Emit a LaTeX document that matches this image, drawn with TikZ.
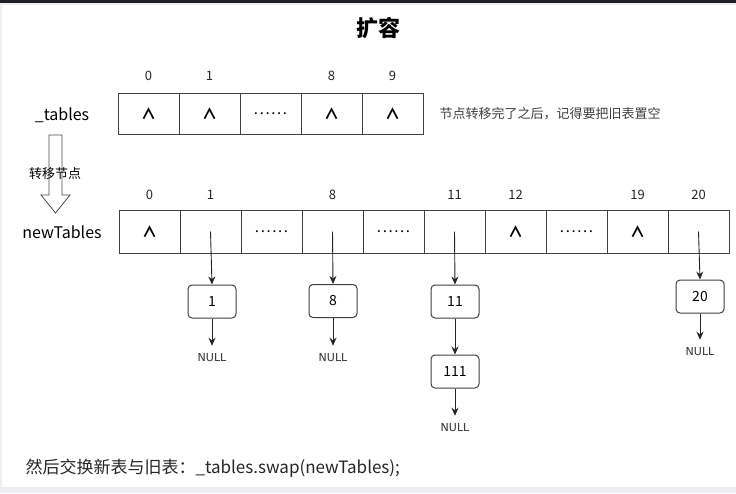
\documentclass[tikz,border=0pt]{standalone}
\usepackage{fontspec}
\setmainfont{Noto Sans CJK SC}
\newfontfamily\nullface{DejaVu Sans}
\usetikzlibrary{arrows.meta}
\definecolor{xFrame}{RGB}{30,32,38}
\definecolor{xEdge}{RGB}{236,238,242}
\newcommand{\gapdots}{.\kern1.6pt.\kern1.6pt.\kern1.6pt.\kern1.6pt.\kern1.6pt.}
\newcommand{\emptymark}{{\bfseries ∧}}

\begin{document}
\begin{tikzpicture}[x=1pt,y=-1pt,
    cellbox/.style={draw=black!75,line width=1pt,minimum width=61pt,
        inner sep=0pt,font=\fontsize{15}{15}\selectfont},
    idx/.style={font=\fontsize{13}{13}\selectfont,text=black!85},
    listbox/.style={draw=black!75,line width=1pt,rounded corners=4pt,
        minimum width=48pt,minimum height=33pt,inner sep=0pt,
        font=\fontsize{14}{14}\selectfont},
    nulltext/.style={font=\nullface\fontsize{11}{11}\selectfont,
        text=black!80,inner sep=1pt},
    ptr/.style={-{Stealth[length=8pt,width=7pt]},line width=0.9pt,black!85}]

    % -------------------------------------------------
    % Page background and the screenshot frame
    % -------------------------------------------------
    \fill[white] (0,0) rectangle (736,493);
    \fill[xFrame] (0,0) rectangle (736,3);
    \fill[xEdge] (0,3) rectangle (736,5);
    \fill[xEdge] (0,3) rectangle (2,493);
    \fill[xEdge] (0,487) rectangle (736,493);

    % -------------------------------------------------
    % Title
    % -------------------------------------------------
    \node[font=\bfseries\fontsize{22}{22}\selectfont] (title) at (378,28) {扩容};

    % -------------------------------------------------
    % Old table: _tables
    % -------------------------------------------------
    \node[font=\fontsize{16}{16}\selectfont] (oldname) at (62,115) {\_tables};
    \foreach \i/\t/\n in {0/\emptymark/0, 1/\emptymark/1, 2/\gapdots/,
                          3/\emptymark/8, 4/\emptymark/9}{
        \node[cellbox,minimum height=41pt] (old\i) at (148.5+61*\i,113.5) {\t};
        \node[idx] (oldidx\i) at (148.5+61*\i,76) {\n};
    }
    \node[anchor=west,font=\fontsize{13}{13}\selectfont,text=black!75]
        (note) at (436,114) {节点转移完了之后，记得要把旧表置空};

    % -------------------------------------------------
    % Hollow arrow: moving the nodes
    % -------------------------------------------------
    \draw[black!70,line width=0.8pt,line join=miter]
        (49,135) -- (62,135) -- (62,195) -- (70,195) --
        (55.5,213) -- (41,195) -- (49,195) -- cycle;
    \node[font=\fontsize{13}{13}\selectfont] (movelabel) at (55,174) {转移节点};

    % -------------------------------------------------
    % New table: newTables
    % -------------------------------------------------
    \node[font=\fontsize{16}{16}\selectfont] (newname) at (62,232) {newTables};
    \foreach \i/\t/\n in {0/\emptymark/0, 1//1, 2/\gapdots/, 3//8, 4/\gapdots/,
                          5//11, 6/\emptymark/12, 7/\gapdots/, 8/\emptymark/19, 9//20}{
        \node[cellbox,minimum height=43pt] (new\i) at (149.5+61*\i,231.5) {\t};
        \node[idx] (newidx\i) at (149.5+61*\i,195) {\n};
    }

    % -------------------------------------------------
    % Chained lists hanging below the buckets
    % -------------------------------------------------
    \node[listbox] (box1) at (212,301.5) {1};
    \node[listbox] (box8) at (333,301) {8};
    \node[listbox] (box11) at (455,301.5) {11};
    \node[listbox] (box111) at (455,371.5) {111};
    \node[listbox] (box20) at (700,296.5) {20};

    \node[nulltext] (null1) at (212,358) {NULL};
    \node[nulltext] (null8) at (333,358) {NULL};
    \node[nulltext] (null11) at (455,428) {NULL};
    \node[nulltext] (null20) at (700,352) {NULL};

    \draw[ptr] (new1.center) -- (box1.north);
    \draw[ptr] (new3.center) -- (box8.north);
    \draw[ptr] (new5.center) -- (box11.north);
    \draw[ptr] (new9.center) -- (box20.north);

    \draw[ptr] (box11.south) -- (box111.north);
    \draw[ptr,shorten >=7pt] (box1.south) -- (null1.north);
    \draw[ptr,shorten >=7pt] (box8.south) -- (null8.north);
    \draw[ptr,shorten >=7pt] (box111.south) -- (null11.north);
    \draw[ptr,shorten >=7pt] (box20.south) -- (null20.north);

    % -------------------------------------------------
    % Closing remark
    % -------------------------------------------------
    \node[anchor=west,font=\fontsize{17}{17}\selectfont,text=black!85]
        (swap) at (22,468) {然后交换新表与旧表：\_tables.swap(newTables);};
\end{tikzpicture}
\end{document}
